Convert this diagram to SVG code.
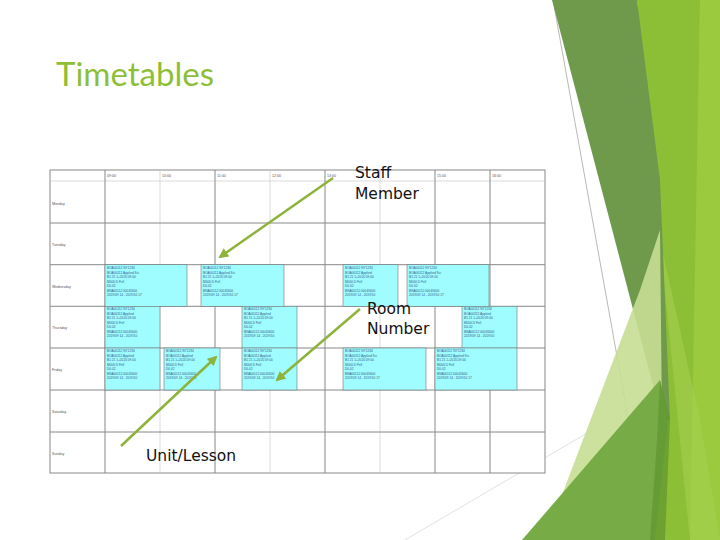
<svg xmlns="http://www.w3.org/2000/svg" width="720" height="540" viewBox="0 0 720 540">
<defs>
<style>
.g{stroke:#888;stroke-width:1;fill:none}
.gl{stroke:#ccc;stroke-width:0.7;fill:none}
.c{fill:#9ffcff;stroke:#777;stroke-width:0.6}
.t{font-family:"Liberation Sans",Arial,sans-serif;font-size:3.6px;fill:#555}
.bt{font-family:"Liberation Sans",Arial,sans-serif;font-size:3.2px;fill:#3a5a8a}
.lab{font-family:"DejaVu Sans",sans-serif;font-size:15.5px;fill:#111}
.ar{stroke:#8db33a;stroke-width:2.5;fill:none;marker-end:url(#ah)}
</style>
<marker id="ah" viewBox="0 0 10 10" refX="8" refY="5" markerWidth="4" markerHeight="4" orient="auto"><path d="M0,0 L10,5 L0,10 z" fill="#8db33a"/></marker>
</defs>
<rect width="720" height="540" fill="#fff"/>
<g id="deco">
<line x1="553" y1="0" x2="650" y2="540" stroke="#999" stroke-width="0.7"/>
<line x1="405" y1="540" x2="720" y2="355" stroke="#ccc" stroke-width="0.6"/>
<polygon points="637,0 720,0 720,540 640,540 668,420" fill="#8dbf36"/>
<polygon points="700,0 720,0 720,540 690,540" fill="#9cca3e"/>
<polygon points="660,240 700,420 720,540 690,540" fill="#a5d051" opacity="0.6"/>
<polygon points="552,0 637,0 660,180 670,420 662,420" fill="#6f9a4c"/>
<polygon points="660,230 662,420 640,450 560,500 600,395 640,290" fill="#c8de93" opacity="0.9"/>
<polygon points="522,540 660,380 668,420 655,540" fill="#76ab45"/>
<polygon points="660,380 670,420 665,540 650,540 657,440" fill="#5f9530" opacity="0.7"/>
</g>
<text x="56" y="86" font-family="Lato,'Open Sans',sans-serif" font-size="33" fill="#8dbf36">Timetables</text>
<g id="table">
<rect x="50" y="170" width="495" height="303" fill="#fff" stroke="#888"/>
<g class="gl">
<line x1="160" y1="170" x2="160" y2="473"/><line x1="270" y1="170" x2="270" y2="473"/><line x1="380" y1="170" x2="380" y2="473"/><line x1="50" y1="181" x2="545" y2="181"/>
</g>
<g class="g">
<line x1="105" y1="170" x2="105" y2="473"/><line x1="215" y1="170" x2="215" y2="473"/><line x1="325" y1="170" x2="325" y2="473"/><line x1="435" y1="170" x2="435" y2="473"/><line x1="490" y1="170" x2="490" y2="473"/>
<line x1="50" y1="223" x2="545" y2="223"/><line x1="50" y1="264.7" x2="545" y2="264.7"/><line x1="50" y1="306.3" x2="545" y2="306.3"/><line x1="50" y1="348" x2="545" y2="348"/><line x1="50" y1="390" x2="545" y2="390"/><line x1="50" y1="432" x2="545" y2="432"/>
</g>
<g class="t">
<text x="107" y="177">09:00</text><text x="162" y="177">10:00</text><text x="217" y="177">11:00</text><text x="272" y="177">12:00</text><text x="327" y="177">13:00</text><text x="437" y="177">15:00</text><text x="492" y="177">16:00</text>
<text x="52" y="205">Monday</text><text x="52" y="246">Tuesday</text><text x="52" y="288">Wednesday</text><text x="52" y="329">Thursday</text><text x="52" y="371">Friday</text><text x="52" y="413">Saturday</text><text x="52" y="455">Sunday</text>
</g>
<g id="blocks">
<rect class="c" x="105" y="264.7" width="82" height="41.6"/>
<rect class="c" x="201" y="264.7" width="83" height="41.6"/>
<rect class="c" x="343" y="264.7" width="55" height="41.6"/>
<rect class="c" x="407" y="264.7" width="82" height="41.6"/>
<rect class="c" x="105" y="306.3" width="55" height="41.7"/>
<rect class="c" x="242" y="306.3" width="55" height="41.7"/>
<rect class="c" x="462" y="306.3" width="55" height="41.7"/>
<rect class="c" x="105" y="348" width="55" height="42"/>
<rect class="c" x="164" y="348" width="56" height="42"/>
<rect class="c" x="242" y="348" width="55" height="42"/>
<rect class="c" x="343" y="348" width="83" height="42"/>
<rect class="c" x="435" y="348" width="82" height="42"/>
</g>
<g class="bt">
<text x="107" y="269">BOA00112 NY1234</text><text x="107" y="273.5">BOA00112 Applied Sci</text><text x="107" y="278">B1 21 1+2020 09:00</text><text x="107" y="282.5">M000 D Fell</text><text x="107" y="287">D0.02</text><text x="107" y="291.5">BNA00112 00045600</text><text x="107" y="296">2019/09 14 - 2019/10 17</text>
<text x="203" y="269">BOA00112 NY1234</text><text x="203" y="273.5">BOA00112 Applied Sci</text><text x="203" y="278">B1 21 1+2020 09:00</text><text x="203" y="282.5">M000 D Fell</text><text x="203" y="287">D0.02</text><text x="203" y="291.5">BNA00112 00045600</text><text x="203" y="296">2019/09 14 - 2019/10 17</text>
<text x="345" y="269">BOA00112 NY1234</text><text x="345" y="273.5">BOA00112 Applied</text><text x="345" y="278">B1 21 1+2020 09:00</text><text x="345" y="282.5">M000 D Fell</text><text x="345" y="287">D0.02</text><text x="345" y="291.5">BNA00112 00045600</text><text x="345" y="296">2019/09 14 - 2019/10</text>
<text x="409" y="269">BOA00112 NY1234</text><text x="409" y="273.5">BOA00112 Applied Sci</text><text x="409" y="278">B1 21 1+2020 09:00</text><text x="409" y="282.5">M000 D Fell</text><text x="409" y="287">D0.02</text><text x="409" y="291.5">BNA00112 00045600</text><text x="409" y="296">2019/09 14 - 2019/10 17</text>
<text x="107" y="310">BOA00112 NY1234</text><text x="107" y="314.5">BOA00112 Applied</text><text x="107" y="319">B1 21 1+2020 09:00</text><text x="107" y="323.5">M000 D Fell</text><text x="107" y="328">D0.02</text><text x="107" y="332.5">BNA00112 00045600</text><text x="107" y="337">2019/09 14 - 2019/10</text>
<text x="244" y="310">BOA00112 NY1234</text><text x="244" y="314.5">BOA00112 Applied</text><text x="244" y="319">B1 21 1+2020 09:00</text><text x="244" y="323.5">M000 D Fell</text><text x="244" y="328">D0.02</text><text x="244" y="332.5">BNA00112 00045600</text><text x="244" y="337">2019/09 14 - 2019/10</text>
<text x="464" y="310">BOA00112 NY1234</text><text x="464" y="314.5">BOA00112 Applied</text><text x="464" y="319">B1 21 1+2020 09:00</text><text x="464" y="323.5">M000 D Fell</text><text x="464" y="328">D0.02</text><text x="464" y="332.5">BNA00112 00045600</text><text x="464" y="337">2019/09 14 - 2019/10</text>
<text x="107" y="352">BOA00112 NY1234</text><text x="107" y="356.5">BOA00112 Applied</text><text x="107" y="361">B1 21 1+2020 09:00</text><text x="107" y="365.5">M000 D Fell</text><text x="107" y="370">D0.02</text><text x="107" y="374.5">BNA00112 00045600</text><text x="107" y="379">2019/09 14 - 2019/10</text>
<text x="166" y="352">BOA00112 NY1234</text><text x="166" y="356.5">BOA00112 Applied</text><text x="166" y="361">B1 21 1+2020 09:00</text><text x="166" y="365.5">M000 D Fell</text><text x="166" y="370">D0.02</text><text x="166" y="374.5">BNA00112 00045600</text><text x="166" y="379">2019/09 14 - 2019/10</text>
<text x="244" y="352">BOA00112 NY1234</text><text x="244" y="356.5">BOA00112 Applied</text><text x="244" y="361">B1 21 1+2020 09:00</text><text x="244" y="365.5">M000 D Fell</text><text x="244" y="370">D0.02</text><text x="244" y="374.5">BNA00112 00045600</text><text x="244" y="379">2019/09 14 - 2019/10</text>
<text x="345" y="352">BOA00112 NY1234</text><text x="345" y="356.5">BOA00112 Applied Sci</text><text x="345" y="361">B1 21 1+2020 09:00</text><text x="345" y="365.5">M000 D Fell</text><text x="345" y="370">D0.02</text><text x="345" y="374.5">BNA00112 00045600</text><text x="345" y="379">2019/09 14 - 2019/10 17</text>
<text x="437" y="352">BOA00112 NY1234</text><text x="437" y="356.5">BOA00112 Applied Sci</text><text x="437" y="361">B1 21 1+2020 09:00</text><text x="437" y="365.5">M000 D Fell</text><text x="437" y="370">D0.02</text><text x="437" y="374.5">BNA00112 00045600</text><text x="437" y="379">2019/09 14 - 2019/10 17</text>
</g>
</g>
<g id="connectors">
<line class="ar" x1="333" y1="178" x2="220" y2="257"/>
<line class="ar" x1="360" y1="309" x2="277" y2="380"/>
<line class="ar" x1="121" y1="446" x2="216" y2="357"/>
</g>
<g id="labels">
<text class="lab" x="355" y="178">Staff</text><text class="lab" x="355" y="199">Member</text>
<text class="lab" x="367" y="314">Room</text><text class="lab" x="367" y="334">Number</text>
<text class="lab" x="146" y="461">Unit/Lesson</text>
</g>
</svg>
